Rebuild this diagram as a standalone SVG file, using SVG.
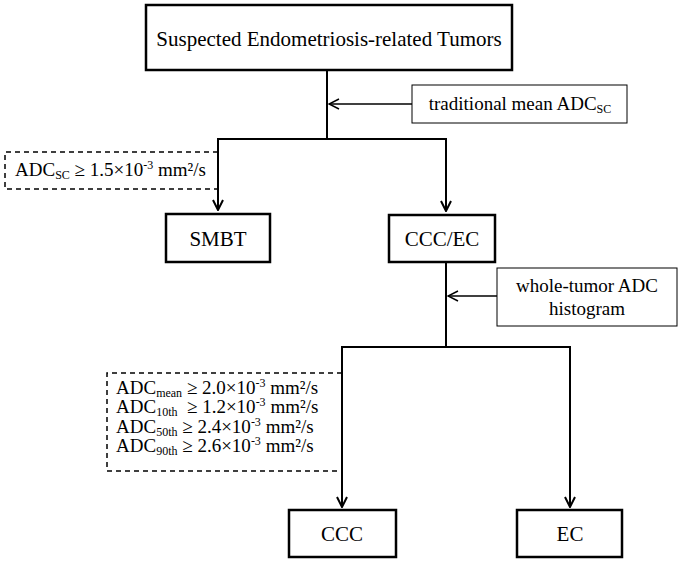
<svg xmlns="http://www.w3.org/2000/svg" width="685" height="562" viewBox="0 0 685 562">
<style>
text{font-family:"Liberation Serif","Times New Roman",serif;fill:#000}
.node{fill:#fff;stroke:#000;stroke-width:2.5}
.lbl{fill:#fff;stroke:#000;stroke-width:1}
.dash{fill:none;stroke:#000;stroke-width:1.5;stroke-dasharray:5,4}
.big{font-size:21px;text-anchor:middle}
.sm{font-size:19px}
.sub{font-size:12px}
.ln{fill:none;stroke:#000;stroke-width:2}
.thin{fill:none;stroke:#000;stroke-width:1.3}
</style>
<defs>
<marker id="ah" viewBox="0 0 12 12" refX="11" refY="6" markerWidth="12" markerHeight="12" markerUnits="userSpaceOnUse" orient="auto">
<polyline points="1,1 11,6 1,11" fill="none" stroke="#000" stroke-width="2"/>
</marker>
<marker id="ahs" viewBox="0 0 12 12" refX="11" refY="6" markerWidth="12" markerHeight="12" markerUnits="userSpaceOnUse" orient="auto">
<polyline points="1,1 11,6 1,11" fill="none" stroke="#000" stroke-width="1.5"/>
</marker>
</defs>
<g id="connectors">
<line class="ln" x1="327" y1="70" x2="327" y2="139"/>
<line class="ln" x1="217" y1="139" x2="447" y2="139"/>
<line class="ln" x1="218" y1="139" x2="218" y2="210" marker-end="url(#ah)"/>
<line class="ln" x1="446" y1="139" x2="446" y2="211" marker-end="url(#ah)"/>
<line class="ln" x1="446" y1="262" x2="446" y2="347"/>
<line class="ln" x1="341" y1="347" x2="571" y2="347"/>
<line class="ln" x1="342" y1="347" x2="342" y2="507" marker-end="url(#ah)"/>
<line class="ln" x1="570" y1="347" x2="570" y2="507" marker-end="url(#ah)"/>
<line class="thin" x1="412" y1="104" x2="329" y2="104" marker-end="url(#ahs)"/>
<line class="thin" x1="497" y1="296" x2="448" y2="296" marker-end="url(#ahs)"/>
</g>
<g id="top">
<rect class="node" x="146" y="5" width="366" height="65"/>
<text class="big" x="329" y="46">Suspected Endometriosis-related Tumors</text>
</g>
<g id="label-trad">
<rect class="lbl" x="412" y="85" width="215" height="38"/>
<text class="sm" x="520" y="110" text-anchor="middle">traditional mean ADC<tspan class="sub" dy="3">SC</tspan></text>
</g>
<g id="cond1">
<path class="dash" d="M218,152 H5 V189 H218"/>
<text class="sm" x="15" y="176">ADC<tspan class="sub" dy="3">SC</tspan><tspan dy="-3"> ≥ 1.5×10</tspan><tspan class="sub" dy="-7">-3</tspan><tspan dy="7"> mm²/s</tspan></text>
</g>
<g id="smbt">
<rect class="node" x="166" y="214" width="104" height="48"/>
<text class="big" x="218" y="246">SMBT</text>
</g>
<g id="cccec">
<rect class="node" x="389" y="215" width="106" height="47"/>
<text class="big" x="442" y="246">CCC/EC</text>
</g>
<g id="label-hist">
<rect class="lbl" x="497" y="268" width="180" height="58"/>
<text class="sm" x="587" y="292" text-anchor="middle">whole-tumor ADC</text>
<text class="sm" x="587" y="315" text-anchor="middle">histogram</text>
</g>
<g id="cond2">
<path class="dash" d="M342,373 H107 V471 H342"/>
<text class="sm" x="116" y="394">ADC<tspan class="sub" dy="3">mean</tspan><tspan dy="-3"> ≥ 2.0×10</tspan><tspan class="sub" dy="-7">-3</tspan><tspan dy="7"> mm²/s</tspan></text>
<text class="sm" x="116" y="413">ADC<tspan class="sub" dy="3">10th</tspan><tspan dy="-3">&#160; ≥ 1.2×10</tspan><tspan class="sub" dy="-7">-3</tspan><tspan dy="7"> mm²/s</tspan></text>
<text class="sm" x="116" y="433">ADC<tspan class="sub" dy="3">50th</tspan><tspan dy="-3"> ≥ 2.4×10</tspan><tspan class="sub" dy="-7">-3</tspan><tspan dy="7"> mm²/s</tspan></text>
<text class="sm" x="116" y="452">ADC<tspan class="sub" dy="3">90th</tspan><tspan dy="-3"> ≥ 2.6×10</tspan><tspan class="sub" dy="-7">-3</tspan><tspan dy="7"> mm²/s</tspan></text>
</g>
<g id="ccc">
<rect class="node" x="289" y="510" width="107" height="47"/>
<text class="big" x="342" y="541">CCC</text>
</g>
<g id="ec">
<rect class="node" x="517" y="510" width="105" height="47"/>
<text class="big" x="570" y="541">EC</text>
</g>
</svg>
